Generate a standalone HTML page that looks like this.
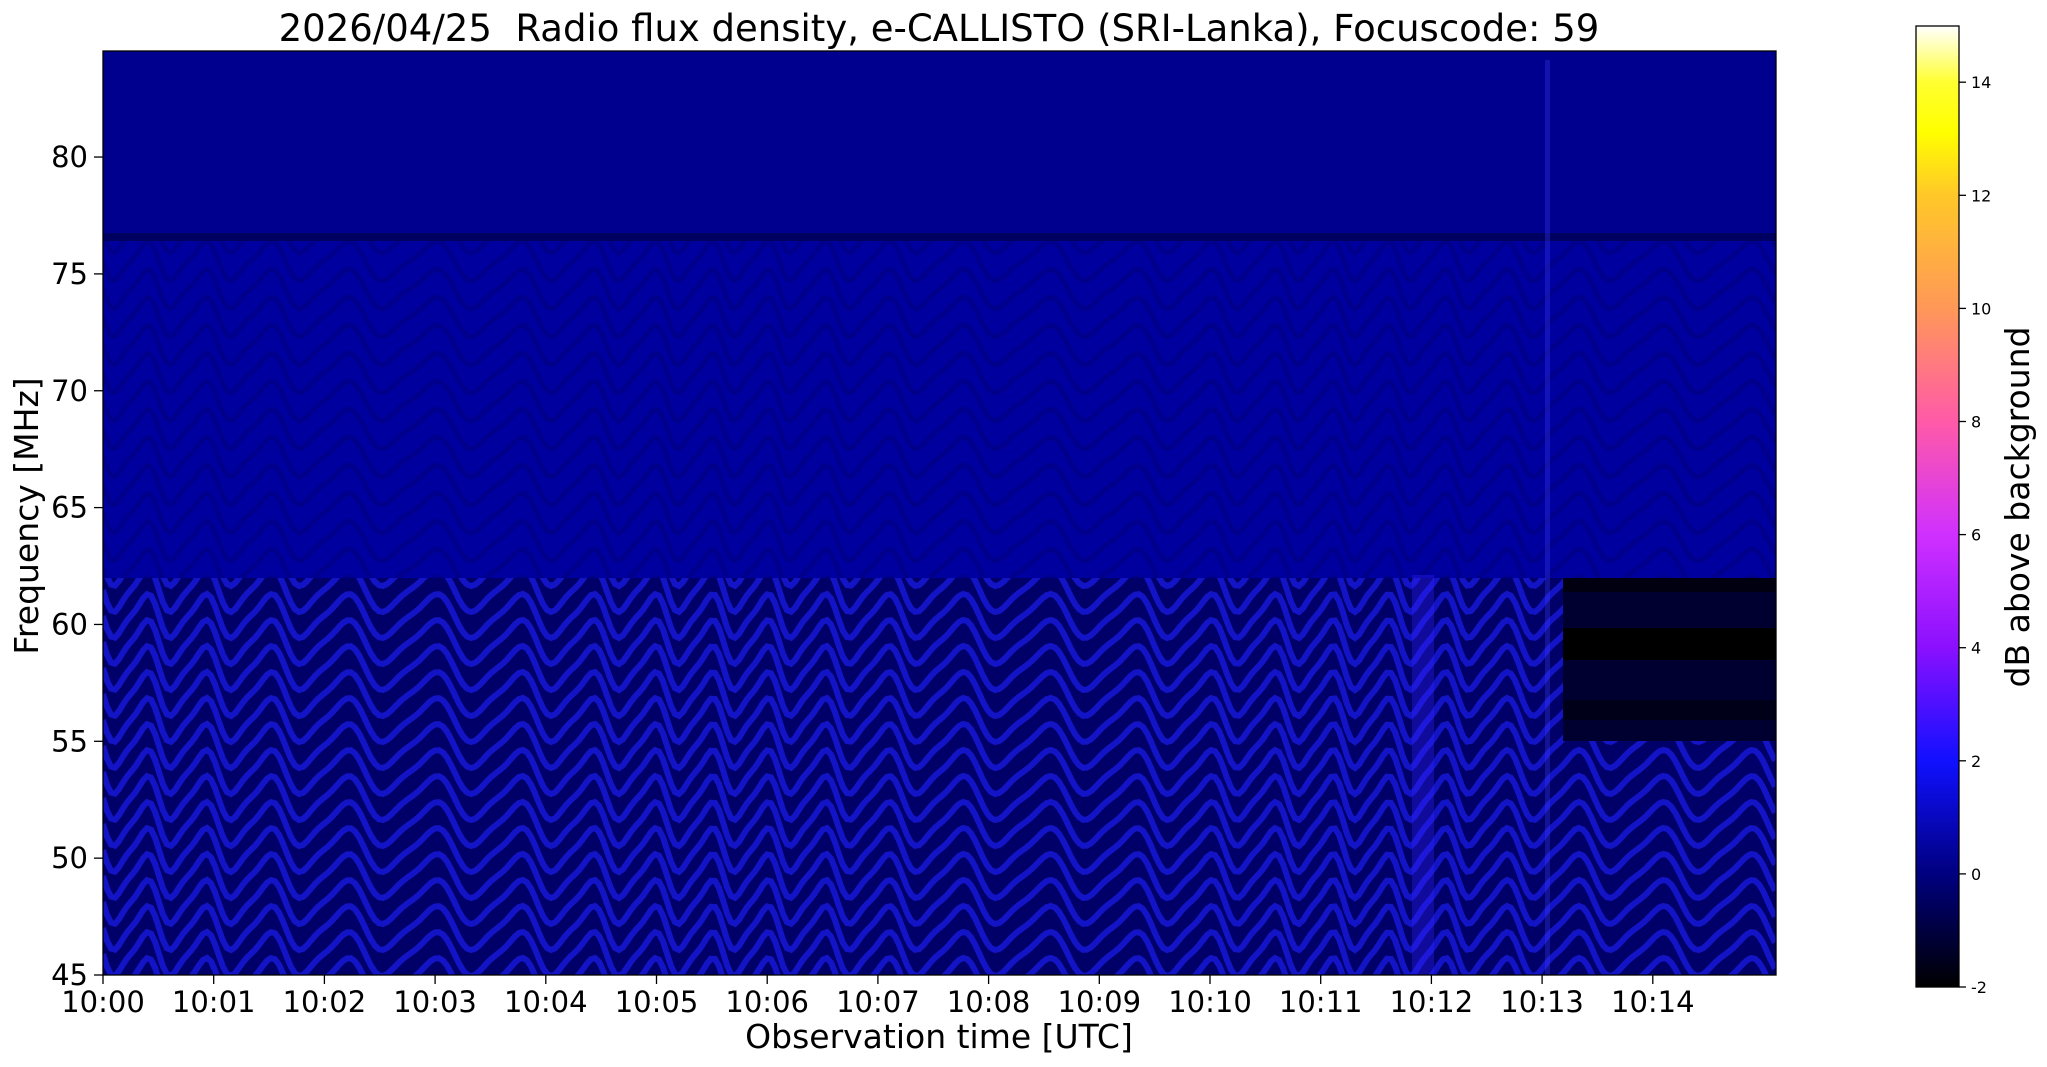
<!DOCTYPE html>
<html><head><meta charset="utf-8"><style>
html,body{margin:0;padding:0;background:#fff;width:2047px;height:1067px;overflow:hidden}
svg{display:block}
text{font-family:"DejaVu Sans","Liberation Sans",sans-serif;fill:#000}
</style></head><body>
<svg id="s" width="2047" height="1067" xmlns="http://www.w3.org/2000/svg">
<defs>
<linearGradient id="cb" x1="0" y1="0" x2="0" y2="1">
<stop offset="0" stop-color="#ffffff"/>
<stop offset="0.059" stop-color="#ffff30"/>
<stop offset="0.11" stop-color="#ffff00"/>
<stop offset="0.176" stop-color="#ffc828"/>
<stop offset="0.294" stop-color="#ff9858"/>
<stop offset="0.412" stop-color="#ff5aa8"/>
<stop offset="0.529" stop-color="#d030ff"/>
<stop offset="0.647" stop-color="#8a10ff"/>
<stop offset="0.765" stop-color="#1010ff"/>
<stop offset="0.882" stop-color="#000080"/>
<stop offset="1" stop-color="#000000"/>
</linearGradient>
<clipPath id="pc"><rect x="103" y="51" width="1673" height="924"/></clipPath>
<clipPath id="lb"><rect x="103" y="578" width="1673" height="397"/></clipPath>
<clipPath id="ub"><rect x="103" y="241" width="1673" height="337"/></clipPath>
</defs>
<g clip-path="url(#pc)">
<rect x="103" y="51" width="1673" height="924" fill="#00009a"/>
<rect x="103" y="51" width="1673" height="188" fill="#00008e"/>
<rect x="103" y="233" width="1673" height="8" fill="#000060"/>
<rect x="103" y="241" width="1673" height="337" fill="#00009e"/>
<rect x="103" y="578" width="1673" height="397" fill="#000068"/>
<g clip-path="url(#ub)" id="wu"></g>
<g clip-path="url(#lb)" id="wl"></g>
<rect x="1563" y="578" width="213" height="163" fill="#000030"/>
<rect x="1563" y="578" width="213" height="14" fill="#000010"/>
<rect x="1563" y="628" width="213" height="32" fill="#000000"/>
<rect x="1563" y="700" width="213" height="20" fill="#000018"/>
<rect x="1412" y="575" width="22" height="400" fill="#3020ff" opacity="0.35"/>
<rect x="1545" y="60" width="5" height="915" fill="#4040ff" opacity="0.3"/>
</g>
<rect x="103" y="51" width="1673" height="924" fill="none" stroke="#000" stroke-width="1.3"/>
<g id="ticks" stroke="#000" stroke-width="1.3"></g>
<g id="labels"></g>
<text x="939" y="41" font-size="37" text-anchor="middle" xml:space="preserve">2026/04/25  Radio flux density, e-CALLISTO (SRI-Lanka), Focuscode: 59</text>
<text x="939" y="1048" font-size="33" text-anchor="middle">Observation time [UTC]</text>
<text transform="translate(38,516) rotate(-90)" font-size="33" text-anchor="middle">Frequency [MHz]</text>
<rect x="1916" y="26" width="43" height="961" fill="url(#cb)" stroke="#000" stroke-width="1.3"/>
<g id="cbt" stroke="#000" stroke-width="1.3"></g>
<g id="cbl"></g>
<text transform="translate(2029,507) rotate(-90)" font-size="33" text-anchor="middle">dB above background</text>
</svg>
<script>
var NS="http://www.w3.org/2000/svg";
function el(p,t,a,txt){var e=document.createElementNS(NS,t);for(var k in a)e.setAttribute(k,a[k]);if(txt!==undefined)e.textContent=txt;document.getElementById(p).appendChild(e);return e;}
for(var i=0;i<15;i++){var x=103+i*110.7;el("ticks","line",{x1:x,y1:975,x2:x,y2:984});
el("labels","text",{x:x,y:1012,"font-size":"29","text-anchor":"middle"},"10:"+(i<10?"0":"")+i);}
for(var f=45;f<=80;f+=5){var y=975-(f-45)*23.37;el("ticks","line",{x1:94,y1:y,x2:103,y2:y});
el("labels","text",{x:88,y:y+10,"font-size":"29","text-anchor":"end"},f);}
for(var v=-2;v<=14;v+=2){var y=987-(v+2)*56.55;el("cbt","line",{x1:1959,y1:y,x2:1966,y2:y});
el("cbl","text",{x:1971,y:y+6,"font-size":"16"},v);}
function wave(id,y0,y1,col,op,sw,amp,step){
 for(var yb=y0-amp*2;yb<y1+amp*2;yb+=step){var d="";
  for(var x=103;x<=1776;x+=4){var t=(x-103)/110.7;
   var ph=t/0.62+0.35*Math.sin(t*1.1);
   var s=Math.sin(2*Math.PI*ph);
   var y=yb+amp*s+amp*0.25*Math.sin(4*Math.PI*ph);
   d+=(x==103?"M":"L")+x+" "+y.toFixed(1);}
  el(id,"path",{d:d,fill:"none",stroke:col,"stroke-width":sw,opacity:op});}
}
wave("wl",578,975,"#1c1cf0",0.7,6,20,26);
wave("wu",241,578,"#000078",0.45,5,18,28);
</script>
</body></html>
